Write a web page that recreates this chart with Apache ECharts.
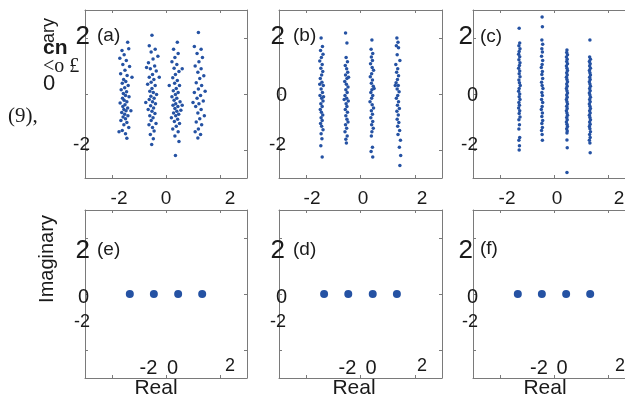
<!DOCTYPE html>
<html>
<head>
<meta charset="utf-8">
<script src="https://cdn.jsdelivr.net/npm/echarts@6/dist/echarts.min.js"></script>
<style>html,body{margin:0;padding:0;background:#fff;overflow:hidden}#c{width:645px;height:399px}</style>
</head>
<body>
<div id="c"></div>
<script>
// ---------------- DATA ----------------
const realTicks = [-2, 0, 2];
const imagTicks = [-2, 0, 2];
const realTickLabels = ['-2', '0', '2'];
const imagTickLabels = ['2', '0', '-2'];
const panelNames = ['(a)', '(b)', '(c)', '(e)', '(d)', '(f)'];
const realAxisName = 'Real';
const imagAxisName = 'Imaginary';
const strayTexts = ['ary', 'cn', '<o £', '0', '(9),'];

// (a) received constellation, wide spread
const panelA = [
 [-1.42,1.85],[-1.63,1.55],[-1.38,1.62],[-1.55,1.4],[-1.71,1.28],[-1.47,1.2],[-1.6,1.05],[-1.35,0.98],[-1.52,0.85],[-1.68,0.72],[-1.44,0.66],[-1.57,0.52],[-1.49,0.45],[-1.62,0.38],[-1.4,0.3],[-1.53,0.22],[-1.66,0.15],[-1.46,0.08],[-1.58,0.02],[-1.5,-0.05],[-1.37,-0.1],[-1.61,-0.15],[-1.55,-0.22],[-1.45,-0.28],[-1.7,-0.32],[-1.52,-0.38],[-1.6,-0.45],[-1.42,-0.5],[-1.56,-0.55],[-1.48,-0.6],[-1.64,-0.66],[-1.53,-0.72],[-1.41,-0.78],[-1.59,-0.82],[-1.5,-0.88],[-1.67,-0.95],[-1.45,-1.02],[-1.56,-1.1],[-1.38,-1.2],[-1.62,-1.3],[-1.5,-1.42],[-1.74,-1.35],[-1.45,-1.58],[-1.26,0.6],[-1.3,-0.6],
 [-0.52,2.1],[-0.62,1.72],[-0.4,1.6],[-0.55,1.5],[-0.3,1.35],[-0.48,1.25],[-0.65,1.12],[-0.42,1.0],[-0.58,0.9],[-0.36,0.82],[-0.5,0.7],[-0.62,0.6],[-0.45,0.52],[-0.55,0.42],[-0.68,0.35],[-0.4,0.3],[-0.52,0.2],[-0.6,0.1],[-0.47,0.05],[-0.35,-0.02],[-0.56,-0.08],[-0.44,-0.15],[-0.62,-0.2],[-0.5,-0.28],[-0.39,-0.35],[-0.57,-0.42],[-0.46,-0.5],[-0.66,-0.55],[-0.52,-0.62],[-0.41,-0.7],[-0.6,-0.78],[-0.48,-0.85],[-0.55,-0.95],[-0.37,-1.05],[-0.63,-1.1],[-0.5,-1.2],[-0.44,-1.32],[-0.58,-1.45],[-0.47,-1.6],[-0.53,-1.8],[-0.75,-0.3],[-0.25,0.6],[-0.72,0.95],
 [0.42,1.85],[0.28,1.6],[0.45,1.45],[0.33,1.3],[0.22,1.15],[0.4,1.05],[0.3,0.92],[0.48,0.8],[0.35,0.7],[0.25,0.58],[0.42,0.48],[0.32,0.38],[0.5,0.3],[0.38,0.2],[0.27,0.12],[0.45,0.05],[0.35,-0.02],[0.22,-0.1],[0.4,-0.15],[0.3,-0.22],[0.52,-0.28],[0.36,-0.35],[0.26,-0.4],[0.44,-0.45],[0.33,-0.52],[0.55,-0.58],[0.4,-0.62],[0.28,-0.68],[0.47,-0.72],[0.36,-0.78],[0.2,-0.85],[0.43,-0.9],[0.31,-0.98],[0.5,-1.05],[0.38,-1.15],[0.25,-1.25],[0.45,-1.35],[0.33,-1.5],[0.48,-1.7],[0.35,-2.2],[0.6,-0.4],[0.12,0.3],[0.6,0.9],
 [1.2,2.2],[1.05,1.7],[1.3,1.6],[1.15,1.45],[1.35,1.3],[1.22,1.15],[1.08,1.0],[1.3,0.9],[1.18,0.78],[1.4,0.65],[1.25,0.55],[1.12,0.4],[1.32,0.3],[1.2,0.18],[1.05,0.05],[1.28,-0.05],[1.15,-0.15],[1.38,-0.25],[1.22,-0.35],[1.1,-0.45],[1.3,-0.55],[1.18,-0.68],[1.42,-0.78],[1.25,-0.88],[1.12,-1.0],[1.32,-1.1],[1.2,-1.25],[1.08,-1.35],[1.28,-1.45],[1.18,-1.57],[1.0,-0.3],[1.45,0.1]
];
// (b)
const panelB = [
 [-1.45,2.0],[-1.4,1.7],[-1.47,1.55],[-1.38,1.42],[-1.44,1.3],[-1.5,1.18],[-1.41,1.05],[-1.46,0.92],[-1.39,0.8],[-1.43,0.68],[-1.48,0.55],[-1.42,0.42],[-1.37,0.3],[-1.45,0.18],[-1.4,0.05],[-1.49,-0.05],[-1.43,-0.15],[-1.38,-0.25],[-1.46,-0.35],[-1.41,-0.45],[-1.48,-0.55],[-1.44,-0.65],[-1.39,-0.75],[-1.45,-0.85],[-1.41,-0.95],[-1.47,-1.05],[-1.43,-1.15],[-1.38,-1.28],[-1.45,-1.42],[-1.42,-1.6],[-1.46,-1.85],[-1.41,-2.25],[-1.36,-0.1],[-1.5,0.35],
 [-0.55,2.18],[-0.5,1.82],[-0.53,1.3],[-0.48,1.15],[-0.56,1.02],[-0.51,0.9],[-0.47,0.78],[-0.55,0.68],[-0.5,0.55],[-0.58,0.45],[-0.52,0.35],[-0.46,0.25],[-0.54,0.15],[-0.49,0.05],[-0.57,-0.05],[-0.51,-0.15],[-0.45,-0.25],[-0.53,-0.35],[-0.5,-0.45],[-0.56,-0.55],[-0.48,-0.65],[-0.54,-0.78],[-0.5,-0.9],[-0.46,-1.0],[-0.55,-1.1],[-0.51,-1.22],[-0.57,-1.35],[-0.49,-1.5],[-0.54,-1.62],[-0.52,-1.75],[-0.44,0.6],[-0.6,-0.2],
 [0.42,1.93],[0.39,1.6],[0.45,1.45],[0.4,1.32],[0.44,1.2],[0.37,1.08],[0.43,0.95],[0.48,0.85],[0.41,0.72],[0.36,0.62],[0.44,0.5],[0.4,0.38],[0.47,0.28],[0.42,0.15],[0.38,0.05],[0.45,-0.05],[0.41,-0.15],[0.35,-0.28],[0.43,-0.38],[0.48,-0.5],[0.4,-0.6],[0.44,-0.72],[0.38,-0.85],[0.45,-0.98],[0.41,-1.1],[0.47,-1.22],[0.42,-1.35],[0.4,-1.5],[0.44,-1.9],[0.39,-2.05],[0.45,-2.25],[0.5,0.2],
 [1.34,2.0],[1.38,1.85],[1.32,1.72],[1.4,1.65],[1.35,1.4],[1.45,1.2],[1.3,1.05],[1.37,0.9],[1.33,0.78],[1.4,0.65],[1.36,0.52],[1.31,0.4],[1.39,0.3],[1.35,0.18],[1.42,0.08],[1.37,-0.05],[1.32,-0.15],[1.4,-0.28],[1.36,-0.4],[1.43,-0.52],[1.34,-0.62],[1.39,-0.75],[1.35,-0.9],[1.41,-1.02],[1.37,-1.15],[1.44,-1.3],[1.38,-1.45],[1.47,-1.65],[1.43,-1.9],[1.48,-2.2],[1.45,-2.55],[1.28,0.3]
];
// (c)
const panelC = [
 [-1.29,2.35],[-1.27,1.82],[-1.3,1.72],[-1.26,1.62],[-1.29,1.52],[-1.31,1.42],[-1.27,1.33],[-1.3,1.22],[-1.26,1.12],[-1.28,1.02],[-1.31,0.92],[-1.27,0.82],[-1.29,0.72],[-1.26,0.62],[-1.3,0.5],[-1.28,0.4],[-1.25,0.3],[-1.29,0.2],[-1.31,0.1],[-1.27,0.0],[-1.29,-0.1],[-1.26,-0.2],[-1.3,-0.3],[-1.28,-0.4],[-1.31,-0.5],[-1.27,-0.6],[-1.29,-0.7],[-1.26,-0.82],[-1.3,-0.92],[-1.28,-1.1],[-1.3,-1.25],[-1.27,-1.55],[-1.3,-1.65],[-1.28,-1.85],[-1.29,-2.0],
 [-0.44,2.75],[-0.43,2.4],[-0.45,1.93],[-0.42,1.78],[-0.45,1.62],[-0.43,1.5],[-0.46,1.35],[-0.42,1.2],[-0.44,1.05],[-0.47,0.95],[-0.43,0.8],[-0.45,0.7],[-0.42,0.55],[-0.46,0.42],[-0.44,0.3],[-0.41,0.2],[-0.45,0.05],[-0.43,-0.05],[-0.46,-0.2],[-0.42,-0.3],[-0.44,-0.45],[-0.47,-0.55],[-0.43,-0.68],[-0.45,-0.8],[-0.42,-0.95],[-0.45,-1.05],[-0.43,-1.2],[-0.46,-1.3],[-0.44,-1.45],[-0.43,-1.65],
 [0.48,1.57],[0.47,1.48],[0.5,1.4],[0.46,1.32],[0.49,1.24],[0.47,1.16],[0.5,1.08],[0.46,1.0],[0.48,0.92],[0.5,0.84],[0.47,0.76],[0.49,0.68],[0.46,0.6],[0.48,0.52],[0.5,0.44],[0.47,0.36],[0.49,0.28],[0.46,0.2],[0.48,0.12],[0.5,0.04],[0.47,-0.04],[0.49,-0.12],[0.46,-0.2],[0.48,-0.28],[0.5,-0.36],[0.47,-0.44],[0.49,-0.52],[0.46,-0.6],[0.48,-0.68],[0.5,-0.76],[0.47,-0.84],[0.49,-0.92],[0.46,-1.0],[0.48,-1.08],[0.5,-1.16],[0.47,-1.24],[0.49,-1.32],[0.48,-1.39],[0.48,-1.64],[0.49,-1.92],[0.48,-2.8],
 [1.33,1.93],[1.32,1.32],[1.35,1.24],[1.31,1.16],[1.34,1.08],[1.32,1.0],[1.35,0.92],[1.31,0.84],[1.33,0.76],[1.35,0.68],[1.32,0.6],[1.34,0.52],[1.31,0.44],[1.33,0.36],[1.35,0.28],[1.32,0.2],[1.34,0.12],[1.31,0.04],[1.33,-0.04],[1.35,-0.12],[1.32,-0.2],[1.34,-0.28],[1.31,-0.36],[1.33,-0.44],[1.35,-0.52],[1.32,-0.6],[1.34,-0.68],[1.31,-0.76],[1.33,-0.84],[1.35,-0.92],[1.32,-1.0],[1.34,-1.08],[1.31,-1.16],[1.33,-1.24],[1.35,-1.35],[1.32,-1.45],[1.34,-1.55],[1.31,-1.65],[1.33,-1.75],[1.34,-2.1]
];
// (e), (d), (f) ideal symbols
const panelE = [[-1.34,0],[-0.45,0],[0.45,0],[1.34,0]];
const panelD = [[-1.34,0],[-0.45,0],[0.45,0],[1.34,0]];
const panelF = [[-1.34,0],[-0.45,0],[0.45,0],[1.34,0]];

// ---------------- LAYOUT ----------------
const panels = [panelA, panelB, panelC, panelE, panelD, panelF];
const gridBoxes = [
  {left:85, top:10, width:162, height:168},
  {left:279, top:10, width:163, height:168},
  {left:473, top:10, width:162, height:168},
  {left:85, top:210, width:162, height:168},
  {left:279, top:210, width:163, height:168},
  {left:473, top:210, width:162, height:168}
];
const dotSize = [3.5, 3.5, 3.5, 8, 8, 8];
const AX = '#7a7a7a', TXT = '#1a1a1a', DOT = '#2552a3';
const SANS = '"Liberation Sans", Arial, sans-serif';
const SERIF = '"Liberation Serif", "Times New Roman", serif';

const grid = [], xAxis = [], yAxis = [], series = [];
gridBoxes.forEach((g, i) => {
  grid.push(Object.assign({containLabel:false, outerBoundsMode:'none'}, g));
  const base = {type:'value', gridIndex:i, min:-3, max:3, splitLine:{show:false},
    axisLine:{show:true, onZero:false, lineStyle:{color:AX, width:1}},
    axisLabel:{show:false}};
  xAxis.push(Object.assign({}, base, {position:'bottom', axisTick:{show:true, inside:true, length:3, customValues:realTicks, lineStyle:{color:AX}}}));
  xAxis.push(Object.assign({}, base, {position:'top', axisTick:{show:true, inside:true, length:3, customValues:realTicks, lineStyle:{color:AX}}}));
  yAxis.push(Object.assign({}, base, {position:'left', axisTick:{show:true, inside:true, length:3, customValues:imagTicks, lineStyle:{color:AX}}}));
  yAxis.push(Object.assign({}, base, {position:'right', axisTick:{show:true, inside:true, length:3, customValues:imagTicks, lineStyle:{color:AX}}}));
  series.push({type:'scatter', xAxisIndex:2*i, yAxisIndex:2*i, data:panels[i],
    symbol:'circle', symbolSize:dotSize[i], itemStyle:{color:DOT, opacity:1}, silent:true});
});

// text placements (positions only; strings come from the arrays above)
const graphic = [];
function txt(s, x, y, size, align, opts) {
  opts = opts || {};
  graphic.push({type:'text', x:x, y:y, rotation:opts.rot || 0, z:100,
    style:{text:s, fill:TXT, font:(opts.bold ? 'bold ' : '') + size + 'px ' + (opts.family || SANS),
      align:align, verticalAlign:'middle'}});
}
// top row x tick labels
const topXPos = [[119,166,230],[312,363,422],[507,557,619]];
topXPos.forEach(p => p.forEach((x, k) => txt(realTickLabels[k], x, 199, 19, 'center')));
// top row y tick labels
const topYRight = [[90,null,90],[285,287,286],[473,478,478]];
const topYPos = [37, 95, 145];
const yLabelSize = [26, 20, 19];
topYRight.forEach(p => p.forEach((x, k) => { if (x !== null) txt(imagTickLabels[k], x, topYPos[k], yLabelSize[k], 'right'); }));
// bottom row y tick labels
const botYRight = [[90,89,90],[285,287,286],[473,478,478]];
const botYPos = [251, 297, 322];
const botYSize = [26, 20, 18];
botYRight.forEach(p => p.forEach((x, k) => txt(imagTickLabels[k], x, botYPos[k], botYSize[k], 'right')));
// bottom row x tick labels
const botXPos = [[148.5,172.5,230],[347.5,371,422],[539,562,620]];
botXPos.forEach(p => p.forEach((x, k) => txt(realTickLabels[k], x, k === 2 ? 366 : 368, k === 2 ? 18 : 20, 'center')));
// axis names
[156, 354, 545].forEach(x => txt(realAxisName, x, 388, 21, 'center'));
txt(imagAxisName, 47, 259, 20, 'center', {rot:Math.PI/2});
// panel names
const namePos = [[97,36],[293,36],[480,37],[97,250],[293,250],[480,249]];
namePos.forEach((p, i) => txt(panelNames[i], p[0], p[1], 19, 'left'));
// stray scanned text near top-left
txt(strayTexts[0], 49, 43, 18, 'left', {rot:Math.PI/2});
txt(strayTexts[1], 43, 48, 21, 'left', {bold:true});
txt(strayTexts[2], 43, 67, 20, 'left', {family:SERIF});
txt(strayTexts[3], 43, 84, 22, 'left');
txt(strayTexts[4], 8, 116, 21, 'left', {family:SERIF});

const chart = echarts.init(document.getElementById('c'), null, {renderer:'canvas'});
chart.setOption({animation:false, backgroundColor:'#ffffff', grid, xAxis, yAxis, series, graphic});
</script>
</body>
</html>
